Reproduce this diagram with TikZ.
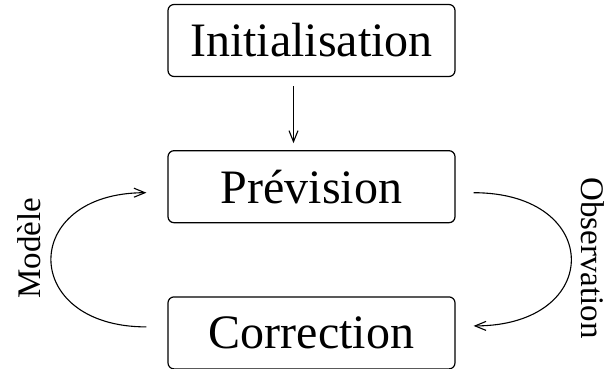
\documentclass[tikz,border=0pt]{standalone}
\usepackage{fontspec}
\setmainfont{Liberation Serif}
\usepackage{tikz}
\usetikzlibrary{arrows.meta,positioning,calc}
\tikzset{
  etape/.style={rectangle, rounded corners=6pt, draw=black, line width=1.2pt,
                minimum width=287pt, minimum height=72pt, align=center,
                font=\fontsize{48}{52}\selectfont},
  lbl/.style={font=\fontsize{33}{37}\selectfont, inner sep=0pt},
  arr/.style={-{Straight Barb[length=11pt,width=9pt]}, line width=1.1pt},
}
\begin{document}
\begin{tikzpicture}[node distance=73pt]
    \useasboundingbox (0pt,0pt) rectangle (610pt,-368pt);
    \node[etape] (init) at (311.5pt,-40.5pt) {Initialisation};
    \node[etape, below=of init] (prev) {Prévision};
    \node[etape, below=of prev] (corr) {Correction};
    \draw[arr] ([xshift=-18pt,yshift=-9pt]init.south) -- ([xshift=-18pt,yshift=7pt]prev.north);
    % boucle modele / observation
    \draw[arr] ([xshift=-21pt,yshift=6pt]corr.west) .. controls +(-127pt,0pt) and +(-127pt,0pt) .. ([xshift=-21pt,yshift=-6pt]prev.west);
    \draw[arr] ([xshift=18pt,yshift=-6pt]prev.east) .. controls +(130pt,0pt) and +(130pt,0pt) .. ([xshift=18pt,yshift=7pt]corr.east);
    \node[lbl, rotate=90] (mod) at (29pt,-248pt) {Modèle};
    \node[lbl, rotate=-90] (obs) at (593pt,-258pt) {Observation};
  \end{tikzpicture}
\end{document}
